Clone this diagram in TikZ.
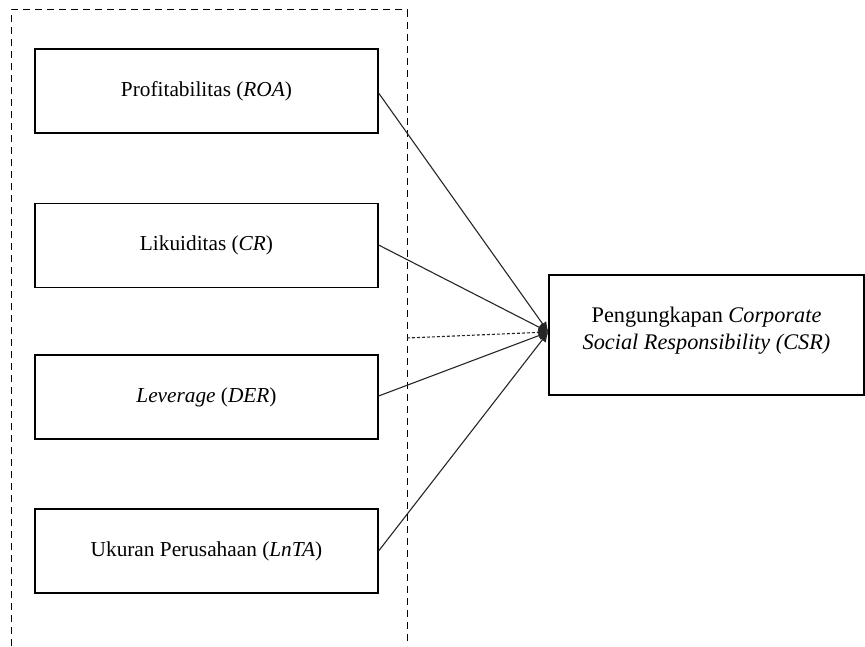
\documentclass[tikz,border=0pt]{standalone}
\usepackage{fontspec}
\setmainfont{Liberation Serif}
\usetikzlibrary{arrows.meta}
\begin{document}
\begin{tikzpicture}[x=1pt,y=1pt,
  varbox/.style={draw=black, line width=1.2pt, minimum width=343pt, minimum height=84pt, inner sep=0pt, font=\fontsize{21.3}{25}\selectfont},
  frame/.style={draw=black, line width=1pt, dash pattern=on 7pt off 5pt},
  link/.style={draw=black!85, line width=1.1pt, -{Latex[length=10pt,width=9pt]}},
  dotlink/.style={link, dash pattern=on 3pt off 2pt}]
\useasboundingbox (0,0) rectangle (865,646);
\draw[frame] (11,0) -- (11,636) -- (407,636) -- (407,0);
\node[varbox] (roa) at (206.5,555) {Profitabilitas (\textit{ROA})};
\node[varbox] (cr) at (206.5,400.5) {Likuiditas (\textit{CR})};
\node[varbox] (der) at (206.5,249) {\textit{Leverage} (\textit{DER})};
\node[varbox] (lnta) at (206.5,95) {Ukuran Perusahaan (\textit{LnTA})};
\node[draw=black, line width=1.2pt, minimum width=315pt, minimum height=120pt, inner sep=0pt, align=center, font=\fontsize{22.3}{27}\selectfont] (csr) at (706.5,311) {Pengungkapan \textit{Corporate}\\\textit{Social Responsibility (CSR)}\\[-14pt]\mbox{}};
\coordinate (tip) at ([yshift=3pt]csr.west);
\coordinate (fr) at (407,308);
\draw[link] (roa.east |- 0,553) -- (tip);
\draw[link] (cr.east |- 0,401) -- (tip);
\draw[link] (der.east |- 0,250) -- (tip);
\draw[link] (lnta.east |- 0,95) -- (tip);
\draw[dotlink] (fr) -- (tip);
\end{tikzpicture}
\end{document}
